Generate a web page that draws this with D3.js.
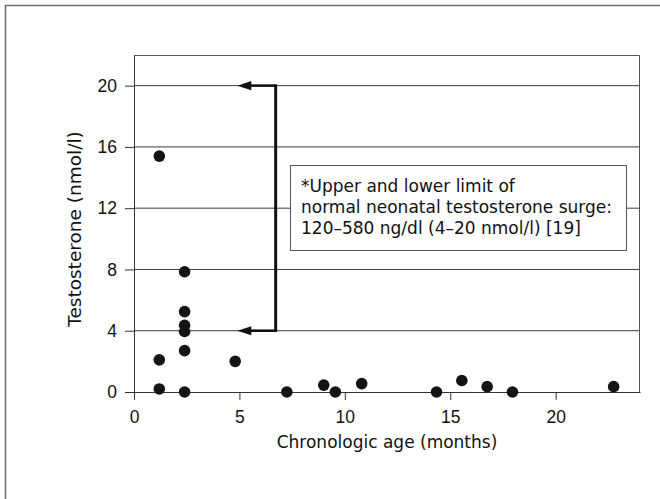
<!DOCTYPE html>
<html>
<head>
<meta charset="utf-8">
<script src="https://cdn.jsdelivr.net/npm/d3@7"></script>
<style>
  body { margin: 0; background: #fff; }
  svg { display: block; }
</style>
</head>
<body>
<div id="chart"></div>
<script>
// values
var ageMonths = [1.2, 1.2, 1.2, 2.4, 2.4, 2.4, 2.4, 2.4, 2.4, 4.8, 7.25, 9.0, 9.55, 10.8, 14.35, 15.55, 16.75, 17.95, 22.75];
var testosterone = [15.4, 2.1, 0.2, 7.85, 5.25, 4.35, 3.95, 2.7, 0.0, 2.0, 0.0, 0.45, 0.0, 0.55, 0.0, 0.75, 0.35, 0.0, 0.35];

var xTicks = [0, 5, 10, 15, 20];
var yTicks = [0, 4, 8, 12, 16, 20];
var gridValues = [4, 8, 12, 16, 20];

// normal surge range (nmol/l) and where the bracket arrow sits (months)
var surgeLimits = [4, 20];
var arrowX = [4.9, 6.72];

var noteLines = [
  "*Upper and lower limit of",
  "normal neonatal testosterone surge:",
  "120\u2013580 ng/dl (4\u201320 nmol/l) [19]"
];

var W = 660, H = 499;
var margin = {top: 55, right: 20, bottom: 107, left: 134},
    width = W - margin.left - margin.right,
    height = H - margin.top - margin.bottom;

var svg = d3.select("#chart").append("svg")
    .attr("width", W)
    .attr("height", H);

// outer frame, only top and left show inside the crop
svg.append("path")
    .attr("d", "M5.5," + H + "V5.5H" + W)
    .attr("fill", "none")
    .attr("stroke", "#6e6e6e")
    .attr("stroke-width", 1.6);

var g = svg.append("g")
    .attr("transform", "translate(" + margin.left + "," + margin.top + ")");

var x = d3.scaleLinear().domain([0, 24]).range([0, width]);
var y = d3.scaleLinear().domain([0, 22]).range([height, 0]);

// gridlines
g.selectAll("line.grid")
    .data(gridValues)
    .enter().append("line")
    .attr("class", "grid")
    .attr("x1", 0).attr("x2", width)
    .attr("y1", function(d){ return y(d); })
    .attr("y2", function(d){ return y(d); })
    .attr("stroke", "#3a3a3a")
    .attr("stroke-width", 1);

// top and right edges of the plot box
g.append("path")
    .attr("d", "M0,0.5H" + (width - 0.5) + "V" + height)
    .attr("fill", "none")
    .attr("stroke", "#555")
    .attr("stroke-width", 1);

// y axis
var yAxis = g.append("g")
    .call(d3.axisLeft(y).tickValues(yTicks).tickSize(9).tickPadding(8).tickSizeOuter(0));
yAxis.select(".domain").attr("stroke", "#333");
yAxis.selectAll(".tick line").attr("stroke", "#333");
yAxis.selectAll("text")
    .attr("font-family", "Liberation Sans, Arial, sans-serif")
    .attr("font-size", 17.5)
    .attr("fill", "#111");

// x axis
var xAxis = g.append("g")
    .attr("transform", "translate(0," + height + ")")
    .call(d3.axisBottom(x).tickValues(xTicks).tickSize(8).tickPadding(11).tickSizeOuter(0));
xAxis.select(".domain").attr("stroke", "#333");
xAxis.selectAll(".tick line").attr("stroke", "#333");
xAxis.selectAll("text")
    .attr("font-family", "Liberation Sans, Arial, sans-serif")
    .attr("font-size", 17.5)
    .attr("fill", "#111");

// axis titles
g.append("text")
    .attr("x", width / 2)
    .attr("y", height + 56)
    .attr("text-anchor", "middle")
    .attr("font-family", "DejaVu Sans, sans-serif")
    .attr("font-size", 17)
    .attr("fill", "#111")
    .text("Chronologic age (months)");

g.append("text")
    .attr("transform", "translate(" + (81 - margin.left) + "," + (229 - margin.top) + ") rotate(-90)")
    .attr("text-anchor", "middle")
    .attr("font-family", "DejaVu Sans, sans-serif")
    .attr("font-size", 18.5)
    .attr("fill", "#111")
    .text("Testosterone (nmol/l)");

// note box
var note = g.append("g")
    .attr("transform", "translate(" + (290 - margin.left) + "," + (165 - margin.top) + ")");
note.append("rect")
    .attr("x", 0.5).attr("y", 0.5)
    .attr("width", 336).attr("height", 85)
    .attr("fill", "#fff")
    .attr("stroke", "#555")
    .attr("stroke-width", 1);
note.selectAll("text")
    .data(noteLines)
    .enter().append("text")
    .attr("x", 11)
    .attr("y", function(d, i){ return 27 + i * 21; })
    .attr("font-family", "DejaVu Sans, sans-serif")
    .attr("font-size", 17)
    .attr("fill", "#111")
    .text(function(d){ return d; });

// bracket arrow for the surge range
var headLen = 14, headHalf = 4.6;

g.append("path")
    .attr("d", "M" + x(arrowX[1]) + "," + (y(surgeLimits[1]) - 1.3) + "V" + (y(surgeLimits[0]) + 1.3))
    .attr("stroke", "#111")
    .attr("stroke-width", 3)
    .attr("fill", "none");

g.selectAll("line.arrow")
    .data(surgeLimits)
    .enter().append("line")
    .attr("class", "arrow")
    .attr("x1", x(arrowX[1]))
    .attr("x2", x(arrowX[0]) + headLen - 1)
    .attr("y1", function(d){ return y(d); })
    .attr("y2", function(d){ return y(d); })
    .attr("stroke", "#111")
    .attr("stroke-width", 2.6);

g.selectAll("path.head")
    .data(surgeLimits)
    .enter().append("path")
    .attr("class", "head")
    .attr("d", function(d){
      var tx = x(arrowX[0]), ty = y(d);
      return "M" + tx + "," + ty + "L" + (tx + headLen) + "," + (ty - headHalf) +
             "L" + (tx + headLen) + "," + (ty + headHalf) + "Z";
    })
    .attr("fill", "#111");

// points
g.selectAll("circle")
    .data(ageMonths)
    .enter().append("circle")
    .attr("cx", function(d){ return x(d); })
    .attr("cy", function(d, i){ return y(testosterone[i]); })
    .attr("r", 5.8)
    .attr("fill", "#141414");
</script>
</body>
</html>
